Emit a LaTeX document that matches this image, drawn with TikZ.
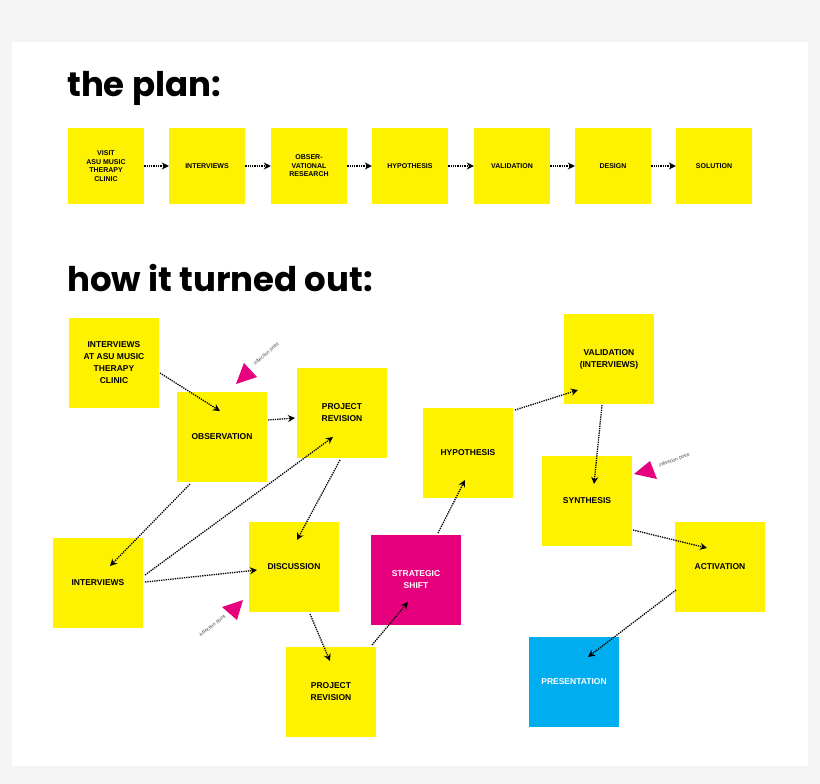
\documentclass[tikz,border=0pt]{standalone}
\usepackage{fontspec}
\setmainfont{Liberation Sans}
\newfontfamily\headfont{Poppins}
\usetikzlibrary{arrows.meta,calc}
\definecolor{stickyyellow}{HTML}{FFF200}
\definecolor{shiftpink}{HTML}{E6007E}
\definecolor{presblue}{HTML}{00AEEF}
\tikzset{
  plannote/.style={fill=stickyyellow,minimum size=76pt,inner sep=2pt,align=center,font=\bfseries\fontsize{7}{8.5}\selectfont},
  note/.style={fill=stickyyellow,minimum size=90pt,inner sep=2pt,align=center,font=\bfseries\fontsize{8.5}{12}\selectfont},
  flow/.style={densely dotted,line width=1.3pt,-{Stealth[length=7pt,width=7pt]}},
  turn/.style={fill=shiftpink},
  turnlabel/.style={font=\fontsize{5}{6}\selectfont,text=black!70}
}
\begin{document}
\begin{tikzpicture}[x=1pt,y=-1pt]
  \fill[black!4] (0,0) rectangle (820,784);
  \fill[white] (12,42) rectangle (808,766);
  \node[anchor=base west,font=\headfont\bfseries\fontsize{34}{34}\selectfont,inner sep=0] (plantitle) at (67,97) {the plan:};
  \node[anchor=base west,font=\headfont\bfseries\fontsize{34}{34}\selectfont,inner sep=0] (outtitle) at (67,291) {how it turned out:};
  % the plan
  \node[plannote] (p1) at (106,166) {VISIT\\ASU MUSIC\\THERAPY\\CLINIC};
  \node[plannote] (p2) at (207,166) {INTERVIEWS};
  \node[plannote] (p3) at (309,166) {OBSER-\\VATIONAL\\RESEARCH};
  \node[plannote] (p4) at (410,166) {HYPOTHESIS};
  \node[plannote] (p5) at (512,166) {VALIDATION};
  \node[plannote] (p6) at (613,166) {DESIGN};
  \node[plannote] (p7) at (714,166) {SOLUTION};
  \foreach \a/\b in {p1/p2,p2/p3,p3/p4,p4/p5,p5/p6,p6/p7}
    \draw[flow] (\a.east) -- (\b.west);
  % how it turned out
  \node[note] (asu) at (114,363) {INTERVIEWS\\AT ASU MUSIC\\THERAPY\\CLINIC};
  \node[note] (obs) at (222,437) {OBSERVATION};
  \node[note] (rev1) at (342,413) {PROJECT\\REVISION};
  \node[note] (intv) at (98,583) {INTERVIEWS};
  \node[note] (disc) at (294,567) {DISCUSSION};
  \node[note] (rev2) at (331,692) {PROJECT\\REVISION};
  \node[note,fill=shiftpink,text=white] (shift) at (416,580) {STRATEGIC\\SHIFT};
  \node[note] (hyp) at (468,453) {HYPOTHESIS};
  \node[note] (val) at (609,359) {VALIDATION\\(INTERVIEWS)};
  \node[note] (syn) at (587,501) {SYNTHESIS};
  \node[note] (act) at (720,567) {ACTIVATION};
  \node[note,fill=presblue,text=white] (pres) at (574,682) {PRESENTATION};
  \draw[flow] ($(asu)+(46,10)$) -- ($(obs)+(-2,-26)$);
  \draw[flow] ($(obs)+(46,-17)$) -- ($(rev1)+(-47,5)$);
  \draw[flow] ($(obs)+(-32,47)$) -- ($(intv)+(12,-17)$);
  \draw[flow] ($(intv)+(47,-8)$) -- ($(rev1)+(-9,24)$);
  \draw[flow] ($(intv)+(47,-1)$) -- ($(disc)+(-37,3)$);
  \draw[flow] ($(rev1)+(-2,47)$) -- ($(disc)+(3,-27)$);
  \draw[flow] ($(disc)+(16,47)$) -- ($(rev2)+(-1,-31)$);
  \draw[flow] ($(rev2)+(41,-47)$) -- ($(shift)+(-8,22)$);
  \draw[flow] ($(shift)+(22,-47)$) -- ($(hyp)+(-3,27)$);
  \draw[flow] ($(hyp)+(47,-43)$) -- ($(val)+(-31,31)$);
  \draw[flow] ($(val)+(-7,46)$) -- ($(syn)+(7,-17)$);
  \draw[flow] ($(syn)+(46,29)$) -- ($(act)+(-13,-19)$);
  \draw[flow] ($(act)+(-44,23)$) -- ($(pres)+(14,-25)$);
  % inflection points
  \fill[turn] (236,384) -- (244,363) -- (257,377) -- cycle;
  \node[turnlabel,rotate=42,anchor=west] (infl1) at (252,367) {inflection point};
  \fill[turn] (634,474) -- (650,461) -- (657,479) -- cycle;
  \node[turnlabel,rotate=20,anchor=west] (infl2) at (656,467) {inflection point};
  \fill[turn] (243,600) -- (222,607) -- (237,620) -- cycle;
  \node[turnlabel,rotate=38,anchor=east] (infl3) at (228,614) {inflection point};
\end{tikzpicture}
\end{document}
